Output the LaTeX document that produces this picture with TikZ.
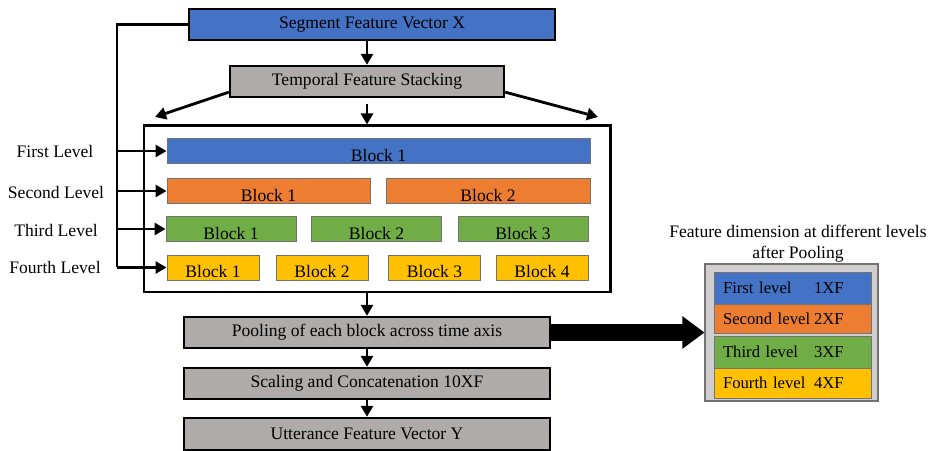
\documentclass[tikz,border=0pt]{standalone}
\usepackage{fontspec}
\setmainfont{Liberation Serif}
\usepackage{tikz}
\usetikzlibrary{arrows.meta,positioning,calc}
\definecolor{lvblue}{HTML}{4472C4}
\definecolor{lvorange}{HTML}{ED7D31}
\definecolor{lvgreen}{HTML}{70AD47}
\definecolor{lvyellow}{HTML}{FFC000}
\definecolor{stagegray}{HTML}{AFABAB}
\definecolor{panelgray}{HTML}{D0CECE}

\begin{document}
\begin{tikzpicture}[x=0.2mm, y=0.2mm, >={Triangle[length=2.2mm,width=2.4mm]},
  stage/.style={draw, line width=1.3pt, fill=stagegray, minimum width=73.2mm, minimum height=6.2mm, inner sep=0pt},
  blk/.style={draw=black!55, line width=0.5pt, minimum height=5mm, inner sep=0pt, text height=11.5pt, text depth=0pt},
  flow/.style={->, line width=1.6pt},
  bus/.style={line width=1.4pt},
  legrow/.style={draw=black!55, line width=0.5pt, text width=27.8mm, inner xsep=1.8mm, inner ysep=0pt, align=left, font=\fontsize{9.5}{11}\selectfont}]

  \useasboundingbox (0,0) rectangle (935,451);

  % Define coordinates for nodes
  \node[stage, fill=lvblue] (seg) at (372,426.5) {Segment Feature Vector X};
  \node[stage, minimum width=54.8mm] (tfs) at (367,369.5) {Temporal Feature Stacking};
  \node[draw, line width=1.7pt, minimum width=93.2mm, minimum height=33.2mm] (box) at (377,242) {};

  \node[blk, fill=lvblue, minimum width=84.6mm] (l1b1) at (378.5,300) {Block 1};

  \node[blk, fill=lvorange, minimum width=40.6mm] (l2b1) at (268.5,260) {Block 1};
  \node[blk, fill=lvorange, minimum width=40.8mm] (l2b2) at (488,260) {Block 2};

  \node[blk, fill=lvgreen, minimum width=26mm] (l3b1) at (231,222) {Block 1};
  \node[blk, fill=lvgreen, minimum width=26mm] (l3b2) at (376.5,222) {Block 2};
  \node[blk, fill=lvgreen, minimum width=26mm] (l3b3) at (523,222) {Block 3};

  \node[blk, fill=lvyellow, minimum width=18.4mm] (l4b1) at (213,183.5) {Block 1};
  \node[blk, fill=lvyellow, minimum width=18.4mm] (l4b2) at (322,183.5) {Block 2};
  \node[blk, fill=lvyellow, minimum width=18.4mm] (l4b3) at (434.5,183.5) {Block 3};
  \node[blk, fill=lvyellow, minimum width=18.4mm] (l4b4) at (542,183.5) {Block 4};

  \node (lab1) at (55,300) {First Level};
  \node (lab2) at (56,259) {Second Level};
  \node (lab3) at (56,221) {Third Level};
  \node (lab4) at (55,184) {Fourth Level};

  \node[stage] (pool) at (367,118.5) {Pooling of each block across time axis};
  \node[stage] (scl) at (367,67.5) {Scaling and Concatenation 10XF};
  \node[stage, minimum height=6.4mm] (utt) at (367,17) {Utterance Feature Vector Y};

  \node[draw=black!55, line width=0.6pt, fill=panelgray, minimum width=34.6mm, minimum height=27.4mm] (legend) at (791.5,118.5) {};
  \node[legrow, fill=lvblue, minimum height=6.4mm] (r1) at (792.5,163) {\makebox[18.2mm][l]{First level}1XF};
  \node[legrow, fill=lvorange, minimum height=5.8mm] (r2) at (792.5,132.5) {\makebox[18.2mm][l]{Second level}2XF};
  \node[legrow, fill=lvgreen, minimum height=6.4mm] (r3) at (792.5,99) {\makebox[18.2mm][l]{Third level}3XF};
  \node[legrow, fill=lvyellow, minimum height=6mm] (r4) at (792.5,68) {\makebox[18.2mm][l]{Fourth level}4XF};
  \node[align=center] (legtitle) at (798,207) {Feature dimension at different levels\\after Pooling};

  \coordinate (bus) at (117,424);
  \coordinate (fanL) at (155,334);
  \coordinate (fanR) at (598,334);

  % Draw arrows between nodes
  \draw[flow] (seg.south -| tfs.north) -- (tfs.north);
  \draw[flow] ($(tfs.south west)+(0,6)$) -- (fanL);
  \draw[flow] ($(tfs.south east)+(0,6)$) -- (fanR);
  \draw[flow] ([yshift=-1.2mm]tfs.south) -- (tfs.south |- box.north);

  \draw[bus] (seg.west) -- (seg.west -| bus) -- (l4b1.west -| bus);
  \draw[flow] (l1b1.west -| bus) -- (l1b1.west);
  \draw[flow] (l2b1.west -| bus) -- (l2b1.west);
  \draw[flow] (l3b1.west -| bus) -- (l3b1.west);
  \draw[flow] (l4b1.west -| bus) -- (l4b1.west);

  \draw[flow] (pool.north |- box.south) -- (pool.north);
  \draw[flow] (pool.south) -- (scl.north);
  \draw[flow] (scl.south) -- (utt.north);

  \draw[line width=3.4mm, -{Triangle[length=4.4mm,width=6.2mm]}] (pool.east) -- (legend.west);
\end{tikzpicture}
\end{document}
